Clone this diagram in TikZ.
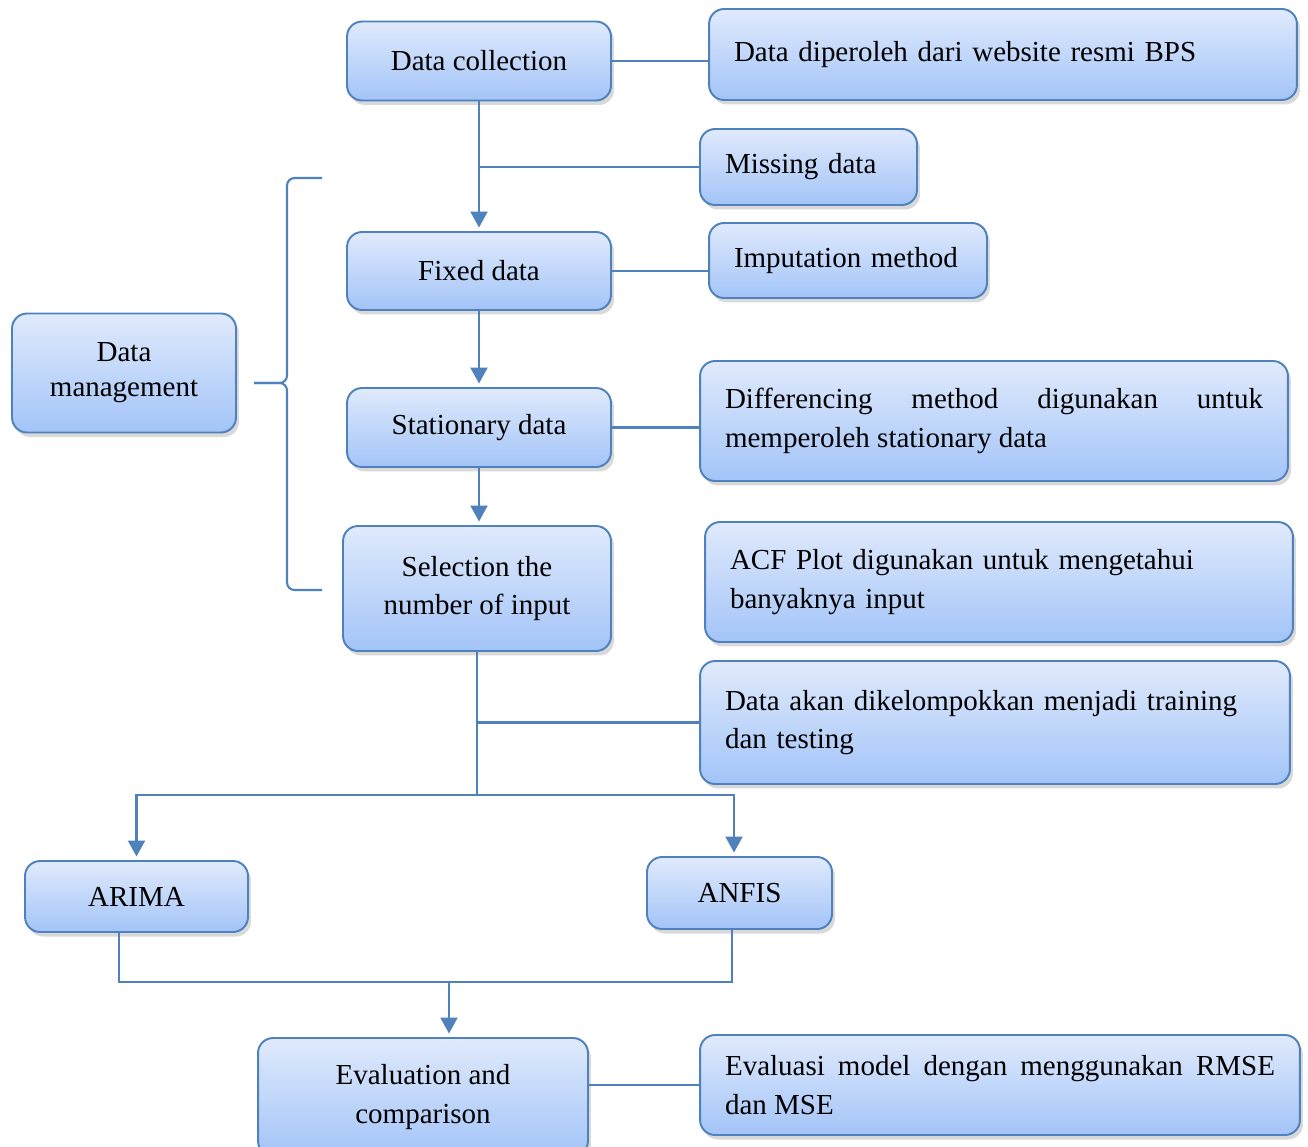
\documentclass[tikz,border=0pt]{standalone}
\usepackage{fontspec}
\setmainfont{Liberation Serif}
\usepackage{tikz}
\usetikzlibrary{arrows.meta, positioning, shadows}
\definecolor{boxline}{RGB}{79,129,189}
\definecolor{boxtop}{RGB}{224,234,252}
\definecolor{boxbottom}{RGB}{163,196,248}

\begin{document}
\begin{tikzpicture}[
	x=0.02cm, y=-0.02cm,
	every node/.style={font=\fontsize{16.5}{22}\selectfont},
	box/.style={draw=boxline, line width=1.1pt, rounded corners=0.3cm, top color=boxtop, bottom color=boxbottom,
		drop shadow={opacity=0.3, shadow xshift=0.6mm, shadow yshift=-0.9mm}, align=center, inner sep=0pt},
	note/.style={box, align=left, inner xsep=0.5cm},
	link/.style={draw=boxline, line width=1.2pt},
	flow/.style={link, -{Triangle[width=0.34cm,length=0.32cm]}, shorten >=2pt},
	]
	\clip (0,0) rectangle (1308,1146);
	
	% Main column
	\node[box, minimum width=5.28cm, minimum height=1.58cm] (collect) at (479,61) {Data collection};
	\node[box, minimum width=5.28cm, minimum height=1.56cm] (fixed) at (479,271) {Fixed data};
	\node[box, minimum width=5.28cm, minimum height=1.58cm] (station) at (479,427.5) {Stationary data};
	\node[box, minimum width=5.36cm, minimum height=2.5cm] (select) at (477,588.5) {Selection the\\number of input};
	\node[box, minimum width=4.48cm, minimum height=2.38cm, font=\fontsize{16.5}{20}\selectfont] (manage) at (124,373) {Data\\management};
	
	% Notes on the right
	\node[note, text width=10.76cm, minimum height=1.82cm] (bps) at (1003,54.5) {Data diperoleh dari website resmi BPS};
	\node[note, text width=3.34cm, minimum height=1.52cm] (missing) at (808.5,167) {Missing data};
	\node[note, text width=4.56cm, minimum height=1.5cm] (impute) at (848,260.5) {Imputation method};
	\node[note, text width=10.76cm, minimum height=2.4cm, align=justify] (diff) at (994,421) {Differencing method digunakan untuk\linebreak memperoleh stationary data};
	\node[note, text width=10.76cm, minimum height=2.4cm] (acf) at (999,582) {ACF Plot digunakan untuk mengetahui\\banyaknya input};
	\node[note, text width=10.8cm, minimum height=2.46cm] (group) at (995,722.5) {Data akan dikelompokkan menjadi training\\dan testing};
	
	% Models and evaluation
	\node[box, minimum width=4.46cm, minimum height=1.42cm] (arima) at (136.5,896.5) {ARIMA};
	\node[box, minimum width=3.7cm, minimum height=1.44cm] (anfis) at (739.5,893) {ANFIS};
	\node[box, minimum width=6.6cm, minimum height=2.36cm] (eval) at (423,1097) {Evaluation and\\comparison};
	\node[note, text width=11cm, minimum height=2cm, align=justify] (rmse) at (1000,1085) {Evaluasi model dengan menggunakan RMSE\linebreak dan MSE};
	
	\coordinate (split) at (477,795);
	\coordinate (join) at (449,982);
	\coordinate (brtop) at (322,178);
	\coordinate (brbot) at (322,590);
	\coordinate (brtip) at (254,383);
	
	% Arrows down the main column
	\draw[flow] (collect) -- (fixed);
	\draw[flow] (fixed) -- (station);
	\draw[flow] (station.south) -- (station.south |- select.north);
	\draw[link] (select) -- (split);
	\draw[flow] (split) -| (arima);
	\draw[flow] (split) -| ([xshift=-0.11cm]anfis.north);
	\draw[link] ([xshift=-0.35cm]arima.south) |- (join) -| ([xshift=-0.15cm]anfis.south);
	\draw[flow] (join) -- (join |- eval.north);
	
	% Lines to the notes
	\draw[link] (collect.east) -- (collect.east -| bps.west);
	\draw[link] (missing.west) -- (missing.west -| collect.south);
	\draw[link] (fixed.east) -- (fixed.east -| impute.west);
	\draw[link] (station.east) -- (station.east -| diff.west);
	\draw[link] (group.west) -- (group.west -| select.south);
	\draw[link] (rmse.west -| eval.east) -- (rmse.west);
	
	% Brace for data management
	\draw[link, rounded corners=0.15cm] (brtop) -- (287,178) -- (287,383) -- (brtip);
	\draw[link, rounded corners=0.15cm] (brbot) -- (287,590) -- (287,383) -- (brtip);
	
\end{tikzpicture}
\end{document}
